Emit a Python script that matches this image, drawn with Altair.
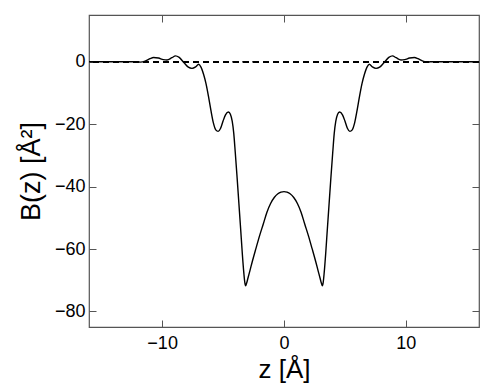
import altair as alt
import pandas as pd

# values (symmetric profile)
z_vals = [-16.0, -12.0, -11.8, -11.4, -11.0, -10.7, -10.3, -9.9, -9.6, -9.2, -8.9, -8.6,
          -8.2, -7.85, -7.55, -7.25, -7.0, -6.8, -6.6, -6.4, -6.2, -6.0, -5.8, -5.6,
          -5.4, -5.2, -5.0, -4.8, -4.55, -4.4, -4.25, -4.12, -4.0, -3.85, -3.7, -3.55,
          -3.42, -3.3, -3.22, -3.15, -3.07, -2.95, -2.8, -2.6, -2.3, -2.0, -1.7, -1.4,
          -1.1, -0.8, -0.5, -0.25,
          0.0,
          0.25, 0.5, 0.8, 1.1,
          1.4, 1.7, 2.0, 2.3, 2.6, 2.8, 2.95, 3.07, 3.15, 3.22, 3.3, 3.42,
          3.55, 3.7, 3.85, 4.0, 4.12, 4.25, 4.4, 4.55, 4.8, 5.0, 5.2, 5.4,
          5.6, 5.8, 6.0, 6.2, 6.4, 6.6, 6.8, 7.0, 7.25, 7.55, 7.85, 8.2,
          8.6, 8.9, 9.2, 9.6, 9.9, 10.3, 10.7, 11.0, 11.4, 11.8, 12.0, 16.0]
b_vals = [0.0, 0.0, -0.1, 0.2, 1.0, 1.4, 1.2, 0.7, 0.6, 1.3, 1.9, 1.4,
          -0.3, -1.7, -2.1, -1.6, -0.8, -1.8, -4.0, -7.0, -11.0, -15.5, -19.5, -21.8,
          -22.3, -21.3, -19.0, -17.0, -16.1, -16.8, -19.0, -23.0, -29.0, -37.0, -45.5, -54.0,
          -61.5, -67.5, -70.6, -71.8, -71.0, -69.2, -67.0, -64.0, -59.8, -55.7, -52.0, -48.2,
          -45.4, -43.5, -42.3, -41.8,
          -41.6,
          -41.8, -42.3, -43.5, -45.4,
          -48.2, -52.0, -55.7, -59.8, -64.0, -67.0, -69.2, -71.0, -71.8, -70.6, -67.5, -61.5,
          -54.0, -45.5, -37.0, -29.0, -23.0, -19.0, -16.8, -16.1, -17.0, -19.0, -21.3, -22.3,
          -21.8, -19.5, -15.5, -11.0, -7.0, -4.0, -1.8, -0.8, -1.6, -2.1, -1.7, -0.3,
          1.4, 1.9, 1.3, 0.6, 0.7, 1.2, 1.4, 1.0, 0.2, -0.1, 0.0, 0.0]

x_ticks = [-10, 0, 10]
y_ticks = [0, -20, -40, -60, -80]
x_domain = [-16, 16]
y_domain = [-85, 15]

W, H = 390, 312
FONT = "Liberation Sans"
GRAY = "#555555"

df = pd.DataFrame({"z": z_vals, "B": b_vals})
xs = alt.Scale(domain=x_domain, nice=False, zero=False)
ys = alt.Scale(domain=y_domain, nice=False, zero=False)

base = alt.Chart(df)

curve = base.mark_line(color="black", strokeWidth=1.4, interpolate="monotone").encode(
    x=alt.X("z:Q", scale=xs, axis=alt.Axis(
        orient="bottom", values=x_ticks, ticks=False, domain=False, grid=False,
        labelPadding=7, labelFontSize=18, title="z [Å]", titleFontSize=26,
        titlePadding=4, titleFont=FONT, labelFont=FONT, titleFontWeight="normal",
        labelColor="black", titleColor="black")),
    y=alt.Y("B:Q", scale=ys, axis=alt.Axis(
        orient="left", values=y_ticks, ticks=False, domain=False, grid=False,
        labelPadding=4, labelFontSize=18, title="B(z) [Å²]", titleFontSize=27,
        titlePadding=9, titleFont=FONT, labelFont=FONT, titleFontWeight="normal",
        labelColor="black", titleColor="black")),
)

zero = alt.Chart(df).mark_rule(color="black", strokeWidth=0.9, strokeDash=[6, 4]).encode(
    y=alt.Y(datum=0, scale=ys, axis=None)
)

tick_ax = dict(labels=False, domain=False, grid=False, ticks=True, tickSize=7,
               tickColor=GRAY, tickWidth=1, title=None)

ticks_a = base.mark_line(opacity=0).encode(
    x=alt.X("z:Q", scale=xs, axis=alt.Axis(orient="top", offset=-H, values=x_ticks, **tick_ax)),
    y=alt.Y("B:Q", scale=ys, axis=alt.Axis(orient="right", offset=-W, values=y_ticks, **tick_ax)),
)
ticks_b = base.mark_line(opacity=0).encode(
    x=alt.X("z:Q", scale=xs, axis=alt.Axis(orient="bottom", offset=-H, values=x_ticks, **tick_ax)),
    y=alt.Y("B:Q", scale=ys, axis=alt.Axis(orient="left", offset=-W, values=y_ticks, **tick_ax)),
)

chart = alt.layer(zero, curve, ticks_a, ticks_b).resolve_axis(
    x="independent", y="independent"
).properties(
    width=W, height=H,
    autosize=alt.AutoSizeParams(type="none"),
    padding={"left": 81, "top": 7, "right": 1, "bottom": 56},
    background="white",
).configure_view(
    stroke=GRAY, strokeWidth=1.2
)

chart.save("out.html", embed_options={"renderer": "svg", "actions": False})
